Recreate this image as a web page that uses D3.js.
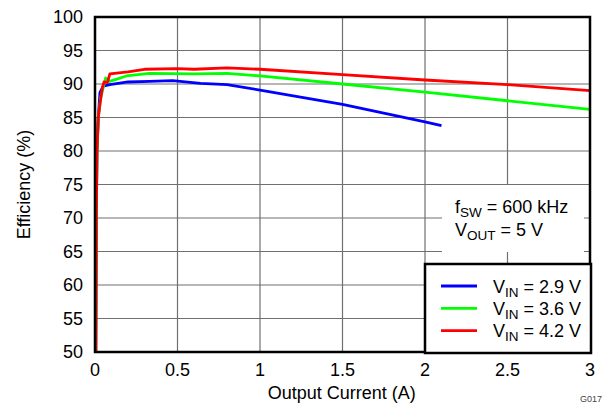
<!DOCTYPE html>
<html>
<head>
<meta charset="utf-8">
<script src="https://cdn.jsdelivr.net/npm/d3@7/dist/d3.min.js"></script>
<style>
  body { margin: 0; background: #fff; }
  svg { font-family: "Liberation Sans", Arial, sans-serif; }
</style>
</head>
<body>
<svg id="chart" width="616" height="404"></svg>
<script>
// efficiency curves: [output current (A), efficiency (%)]
var vin29 = [[0.005, 50], [0.008, 70], [0.012, 80], [0.02, 85], [0.03, 88.7], [0.05, 89.7],
    [0.09, 89.9], [0.2, 90.3], [0.33, 90.4], [0.47, 90.5], [0.64, 90.1], [0.8, 89.9],
    [1.0, 89.1], [1.5, 86.95], [2.0, 84.35], [2.1, 83.8]];
var vin36 = [[0.005, 50], [0.008, 70], [0.012, 80], [0.02, 85], [0.035, 88], [0.05, 89.5],
    [0.065, 90.9], [0.09, 90.4], [0.19, 91.2], [0.33, 91.6], [0.6, 91.5], [0.8, 91.6],
    [1.0, 91.2], [1.5, 90.0], [2.0, 88.8], [2.5, 87.5], [3.0, 86.2]];
var vin42 = [[0.005, 50], [0.008, 70], [0.012, 80], [0.02, 85], [0.03, 87], [0.045, 89.5],
    [0.055, 90.3], [0.075, 90.2], [0.09, 91.5], [0.2, 91.8], [0.3, 92.2], [0.5, 92.3],
    [0.6, 92.2], [0.8, 92.4], [1.0, 92.2], [1.5, 91.4], [2.0, 90.6], [2.5, 89.9], [3.0, 89.0]];

var seriesNames = ["2.9", "3.6", "4.2"];
var seriesColors = ["#0000ff", "#00ff00", "#ff0000"];
var xTicks = [0, 0.5, 1, 1.5, 2, 2.5, 3];
var yTicks = [50, 55, 60, 65, 70, 75, 80, 85, 90, 95, 100];

var svg = d3.select("#chart");
var plotL = 95, plotR = 590, plotT = 17, plotB = 352;
var fs = 18, subFs = 13.5;

var x = d3.scaleLinear().domain([0, 3]).range([plotL, plotR]);
var y = d3.scaleLinear().domain([50, 100]).range([plotB, plotT]);

// grid
svg.append("g")
    .selectAll("line")
    .data(xTicks)
    .enter()
    .append("line")
    .attr("x1", d => x(d))
    .attr("x2", d => x(d))
    .attr("y1", plotT)
    .attr("y2", plotB)
    .attr("stroke", "#707070")
    .attr("stroke-width", 1.2);

svg.append("g")
    .selectAll("line")
    .data(yTicks)
    .enter()
    .append("line")
    .attr("x1", plotL)
    .attr("x2", plotR)
    .attr("y1", d => y(d))
    .attr("y2", d => y(d))
    .attr("stroke", "#707070")
    .attr("stroke-width", 1.2);

// note box covers the grid
svg.append("rect")
    .attr("x", 442)
    .attr("y", 185)
    .attr("width", 142)
    .attr("height", 67)
    .attr("fill", "#fff");

function subText(g, xPos, yPos, main, sub, rest) {
    var t = g.append("text")
        .attr("x", xPos)
        .attr("y", yPos)
        .attr("font-size", fs)
        .attr("fill", "#000");
    t.append("tspan").text(main);
    t.append("tspan").attr("font-size", subFs).attr("dy", 4).text(sub);
    t.append("tspan").attr("dy", -4).text(rest);
    return t;
}

subText(svg, 455, 213, "f", "SW", " = 600 kHz");
subText(svg, 455, 236, "V", "OUT", " = 5 V");

// curves
var line = d3.line()
    .x(d => x(d[0]))
    .y(d => y(d[1]));

[vin29, vin36, vin42].forEach((s, i) => {
    svg.append("path")
        .datum(s)
        .attr("d", line)
        .attr("fill", "none")
        .attr("stroke", seriesColors[i])
        .attr("stroke-width", 2.8)
        .attr("stroke-linejoin", "round");
});

// frame
svg.append("rect")
    .attr("x", plotL)
    .attr("y", plotT)
    .attr("width", plotR - plotL)
    .attr("height", plotB - plotT)
    .attr("fill", "none")
    .attr("stroke", "#000")
    .attr("stroke-width", 2.5);

// tick labels
svg.append("g")
    .selectAll("text")
    .data(xTicks)
    .enter()
    .append("text")
    .attr("x", d => x(d))
    .attr("y", 376)
    .attr("text-anchor", "middle")
    .attr("font-size", fs)
    .text(d => d);

svg.append("g")
    .selectAll("text")
    .data(yTicks)
    .enter()
    .append("text")
    .attr("x", 83)
    .attr("y", d => y(d) + 6.4)
    .attr("text-anchor", "end")
    .attr("font-size", fs)
    .text(d => d);

// axis titles
svg.append("text")
    .attr("x", 341.7)
    .attr("y", 398.5)
    .attr("text-anchor", "middle")
    .attr("font-size", fs)
    .text("Output Current (A)");

svg.append("text")
    .attr("transform", "translate(30," + y(75) + ") rotate(-90)")
    .attr("text-anchor", "middle")
    .attr("font-size", fs)
    .text("Efficiency (%)");

svg.append("text")
    .attr("x", 580)
    .attr("y", 401.5)
    .attr("font-size", 9)
    .attr("fill", "#444")
    .text("G017");

// legend
svg.append("rect")
    .attr("x", 425)
    .attr("y", 264)
    .attr("width", 166)
    .attr("height", 89)
    .attr("fill", "#fff")
    .attr("stroke", "#000")
    .attr("stroke-width", 2.5);

var rows = svg.append("g")
    .selectAll("g")
    .data(seriesNames)
    .enter()
    .append("g")
    .attr("transform", (d, i) => "translate(0," + (286 + i * 22.3) + ")");

rows.append("line")
    .attr("x1", 441)
    .attr("x2", 477)
    .attr("stroke", (d, i) => seriesColors[i])
    .attr("stroke-width", 2.8);

rows.each(function(d) {
    subText(d3.select(this), 493, 6.5, "V", "IN", " = " + d + " V");
});
</script>
</body>
</html>
